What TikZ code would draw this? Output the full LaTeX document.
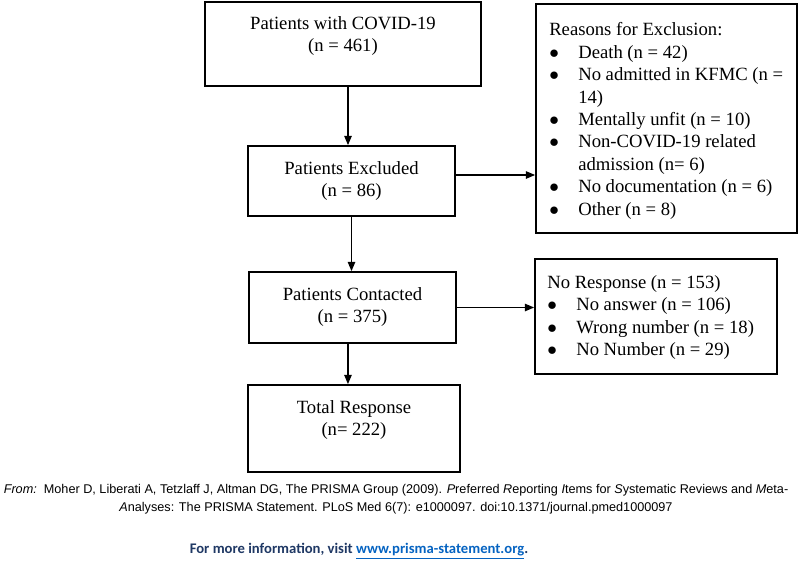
\documentclass[tikz,border=0pt]{standalone}
\usepackage{fontspec}
\setmainfont{Liberation Serif}
\newfontfamily\arialfont{Liberation Sans}
\newfontfamily\calibrifont{Carlito}
\usetikzlibrary{arrows.meta,fit}

\definecolor{prismanavy}{RGB}{31,56,100}
\definecolor{prismalink}{RGB}{5,99,193}

% bullet with hanging indent for the side lists
\newcommand{\bul}{\makebox[21.75pt][l]{$\bullet$}}

\begin{document}
\begin{tikzpicture}[x=0.75pt,y=-0.75pt,
    box/.style={draw, line width=1.2pt, inner sep=0pt},
    boxtext/.style={align=center, inner sep=0pt, font=\fontsize{14}{16.5}\selectfont},
    listtext/.style={align=left, inner sep=0pt, anchor=north west, font=\fontsize{14}{16.8}\selectfont},
    flow/.style={line width=1.2pt, -{Triangle[length=7pt,width=5.5pt]}}]

    \useasboundingbox (0,0) rectangle (799,561);

            % Main column of boxes
            \node[box, fit={(205,2) (481,86)}] (covid) {};
            \node[box, fit={(248,146) (455,216)}] (excluded) {};
            \node[box, fit={(249,272) (456,343)}] (contacted) {};
            \node[box, fit={(248,385) (460,472)}] (total) {};

            % Side boxes
            \node[box, fit={(536,4) (797,233)}] (reasons) {};
            \node[box, fit={(535,259) (777,374)}] (noresp) {};

    % Texts of the main column
    \node[boxtext] (covidtxt) at (343,36) {Patients with COVID-19\\(n = 461)};
    \node[boxtext] (excludedtxt) at (excluded.center) {Patients Excluded\\(n = 86)};
    \node[boxtext] (contactedtxt) at (contacted.center) {Patients Contacted\\(n = 375)};
    \node[boxtext] (totaltxt) at (354,420) {Total Response\\(n= 222)};

    % Texts of the side boxes
    \node[listtext] (reasonstxt) at (549,22.5) {Reasons for Exclusion:\\
        \bul Death (n = 42)\\
        \bul No admitted in KFMC (n =\\
        \hspace*{21.75pt}14)\\
        \bul Mentally unfit (n = 10)\\
        \bul Non-COVID-19 related\\
        \hspace*{21.75pt}admission (n= 6)\\
        \bul No documentation (n = 6)\\
        \bul Other (n = 8)};
    \node[listtext] (noresptxt) at (547,275) {No Response (n = 153)\\
        \bul No answer (n = 106)\\
        \bul Wrong number (n = 18)\\
        \bul No Number (n = 29)};

    % Arrows between the boxes
    \draw[flow] ([xshift=3.75pt]covid.south) -- ([xshift=3.75pt]covid.south |- excluded.north);
    \draw[flow] (excluded.south) -- (excluded.south |- contacted.north);
    \draw[flow] ([xshift=-3.4pt]contacted.south) -- ([xshift=-3.4pt]contacted.south |- total.north);
    \draw[flow] ([yshift=4.5pt]excluded.east) -- ([yshift=4.5pt]excluded.east -| reasons.west);
    \draw[flow] (contacted.east) -- (contacted.east -| noresp.west);

    % Footer
    \node[align=center, inner sep=0pt, font=\arialfont\fontsize{9.5}{13.5}\selectfont] (source) at (396,499)
        {\textit{From:}\ \ Moher D, Liberati A, Tetzlaff J, Altman DG, The PRISMA Group (2009). \textit{P}referred \textit{R}eporting \textit{I}tems for \textit{S}ystematic Reviews and \textit{M}eta-\\
        \textit{A}nalyses: The PRISMA Statement. PLoS Med 6(7): e1000097. doi:10.1371/journal.pmed1000097};
    \node[inner sep=0pt, text=prismanavy, font=\calibrifont\bfseries\fontsize{11}{13}\selectfont] (moreinfo) at (359,551)
        {For more information, visit \textcolor{prismalink}{\underline{www.prisma-statement.org}}.};

\end{tikzpicture}
\end{document}
